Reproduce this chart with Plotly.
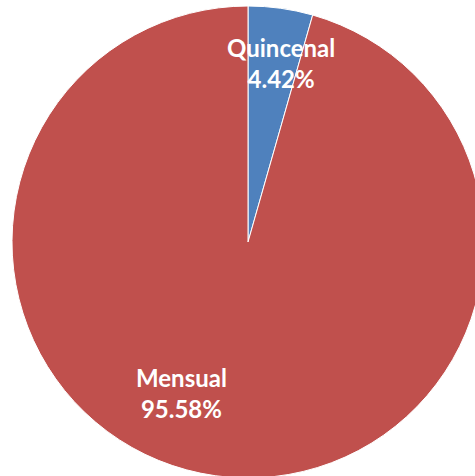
import plotly.graph_objects as go

categories = ["Quincenal", "Mensual"]
values = [4.42, 95.58]
colors = ["#4F81BD", "#C0504D"]

W, H = 490, 480
cx, cy, r = 248, 242, 236

fig = go.Figure(go.Pie(
    labels=categories, values=values, sort=False, direction="clockwise", rotation=0,
    marker=dict(colors=colors, line=dict(color="white", width=1)),
    textinfo="none", hoverinfo="label+percent", showlegend=False,
    domain=dict(x=[(cx - r) / W, (cx + r) / W], y=[(H - cy - r) / H, (H - cy + r) / H]),
))

label_pos = {"Quincenal": (281, 63), "Mensual": (181, 393)}
for cat, val in zip(categories, values):
    px, py = label_pos[cat]
    fig.add_annotation(
        x=px / W, y=1 - py / H, xref="paper", yref="paper", showarrow=False,
        xanchor="center", yanchor="middle",
        text=f"{cat}<br>{val:.2f}%", align="center",
        font=dict(family="Lato", size=24, color="white", weight="bold"),
    )

fig.update_layout(width=W, height=H, margin=dict(l=0, r=0, t=0, b=0),
                  paper_bgcolor="white", plot_bgcolor="white")

fig.write_html("out.html", config={"displayModeBar": False},
               post_script="document.body.style.overflow='hidden';document.body.style.margin='0';")
